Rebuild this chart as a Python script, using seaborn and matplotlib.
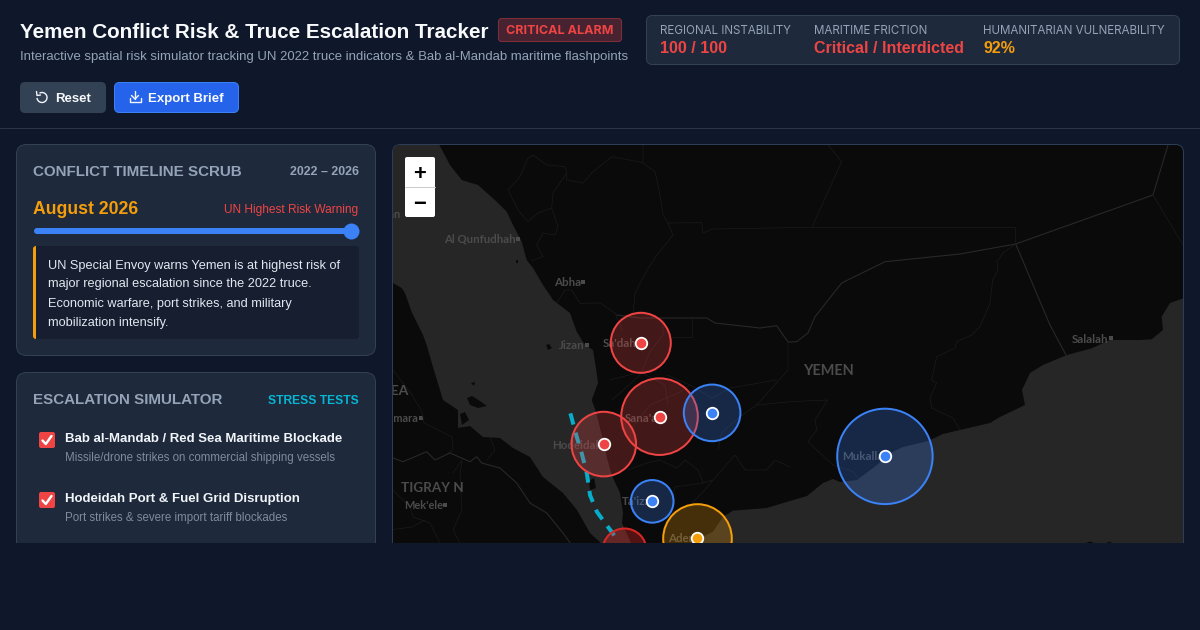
import numpy as np
import pandas as pd
import matplotlib
matplotlib.use("Agg")
import matplotlib.pyplot as plt
import seaborn as sns
from matplotlib.patches import FancyBboxPatch, Arc, Rectangle
from matplotlib.colors import to_rgba

# hotspot table (lon / lat, radius in screen px)
hot_names = ["Sa'dah", "Sana'a", "Marib", "Hodeidah", "Ta'izz", "Aden", "Bab al-Mandab", "Mukalla"]
hot_lon = [43.78, 44.19, 45.34, 42.97, 44.03, 45.02, 43.41, 49.12]
hot_lat = [16.92, 15.36, 15.44, 14.78, 13.57, 12.79, 12.54, 14.52]
hot_radius = [30, 38.3, 28.3, 32.3, 21.3, 34.3, 22, 47.7]
hot_level = ["high", "high", "watch", "high", "watch", "elevated", "severe", "watch"]

# shipping lane through the Red Sea
lane_lon = [42.24, 42.38, 42.49, 42.60, 42.67, 42.82, 43.03, 43.28]
lane_lat = [15.43, 14.93, 14.58, 14.16, 13.70, 13.35, 13.07, 12.75]

stat_labels = ["REGIONAL INSTABILITY", "MARITIME FRICTION", "HUMANITARIAN VULNERABILITY"]
stat_values = ["100 / 100", "Critical / Interdicted", "92%"]
note_lines = ["UN Special Envoy warns Yemen is at highest risk of",
              "major regional escalation since the 2022 truce.",
              "Economic warfare, port strikes, and military",
              "mobilization intensify."]
sim_titles = ["Bab al-Mandab / Red Sea Maritime Blockade", "Hodeidah Port & Fuel Grid Disruption"]
sim_subs = ["Missile/drone strikes on commercial shipping vessels", "Port strikes & severe import tariff blockades"]

# basemap traced in screen px
red_sea = [(393, 140), (436.7, 140), (450, 165), (461.7, 180), (478, 185), (496.7, 201.7), (506.7, 211.7), (513, 225),
           (521.7, 241.7), (526.7, 260), (533, 268), (543, 285), (553, 300), (570, 313), (576.7, 331.7), (585, 345),
           (593, 350), (596.7, 373), (598, 383), (591.7, 400), (596, 412), (603, 440), (607, 458), (611.7, 475),
           (620, 493), (623, 513), (622, 523), (632, 545), (603, 545), (590, 533), (577, 510), (563, 493), (543, 477),
           (530, 457), (513, 448), (500, 438), (483, 437), (470, 426), (458, 428), (458, 410), (443, 400), (433, 367),
           (426.7, 345), (423, 335), (411.7, 312), (405, 293), (401.7, 288), (393, 283)]
gulf = [(690, 545), (703, 536.7), (713, 531.7), (723, 516.7), (733, 510.7), (766.7, 508), (790, 501), (807, 496),
        (823, 483), (833, 479), (840, 482), (857, 480), (877, 465), (890, 453), (903, 447), (928, 441), (943, 434),
        (960, 430), (990, 423), (1000, 417), (1025, 405), (1022, 390), (1030, 373), (1043, 365), (1067, 355),
        (1091.7, 348.3), (1110, 340), (1140, 340), (1151.7, 339.3), (1163, 330), (1161.7, 316.7), (1170, 303),
        (1188, 296.7), (1188, 545)]
islands = [[(467, 398), (472, 396), (480, 401), (487, 406), (478, 408), (470, 405)],
           [(460, 414), (465, 412), (469, 420), (462, 425)],
           [(589, 481), (594, 478), (596, 488), (590, 490)],
           [(546, 345), (549, 344), (552, 348), (548, 350)],
           [(471, 383), (475, 382), (474, 386)],
           [(516, 260), (518, 260), (518, 263), (516, 263)],
           [(1083, 544), (1090, 541.5), (1097, 544)],
           [(1104, 544), (1110, 541.5), (1113, 544)]]

thick_borders = [
    [(616.7, 315), (640, 318), (663, 318), (706.7, 318), (715, 323), (760, 328), (776.7, 325.7), (788, 342), (796.7, 341.7),
     (808, 333), (815, 316.7), (841.7, 283), (885, 261.7), (960, 254), (1015.7, 244), (1153, 195), (1168, 145)],
    [(1015.7, 244), (1050, 325), (1066, 355)],
    [(393, 458), (403, 461.7), (426.7, 451.7), (435, 460), (450, 453), (470, 461.7), (476.7, 456.7), (481.7, 463),
     (500, 468), (516.7, 483), (530, 503), (546.7, 513), (563, 533), (571.7, 545)],
]
thin_borders = [
    [(668, 223), (701.7, 222.7), (703, 233), (713, 229), (790, 227.7), (1015.7, 227.7), (1015.7, 244)],
    [(828, 145), (841.7, 161.7), (811.7, 227.7)],
    [(1153, 195), (1183, 245)],
    [(643, 145), (643, 163), (655, 171.7), (660, 195), (663, 215), (668, 223), (673, 235), (657, 255), (647, 270), (635, 293), (633, 315)],
    [(566.7, 180), (583, 183), (591.7, 173), (611.7, 156.7), (638, 161.7), (643, 163)],
    [(566.7, 173), (553, 193), (551.7, 208), (558, 226.7), (555, 235), (543, 233), (536.7, 245), (543, 256.7), (531.7, 260.7)],
    [(533, 155), (546.7, 165), (565, 166.7), (566.7, 173), (566.7, 180)],
    [(551.7, 208), (538, 213), (528, 221.7), (518, 210), (508, 190), (520, 176.7), (528, 158), (533, 155)],
    [(556.7, 303), (565, 290), (571.7, 290), (580, 303.3), (600, 303), (615, 313), (622, 330)],
    [(776.7, 380), (730, 388), (712, 398), (690, 385), (667, 375)],
    [(788, 342), (788, 370), (756.7, 405), (740, 416.7), (722, 432), (718, 450)],
    [(756.7, 405), (790, 401.7), (827.7, 400), (815, 420), (816.7, 430), (808, 441.7), (820, 453), (833, 465), (853, 471.7), (858, 478)],
    [(960, 430), (953, 418), (931.7, 408), (930, 398), (936.7, 383), (931.7, 380), (936.7, 356.7), (955, 348), (956.7, 341.7),
     (971.7, 335), (980, 326.7), (990, 303), (992.7, 280), (998, 270), (997, 261.7), (1003, 253), (1015.7, 244)],
    [(628, 470), (646.7, 463), (660, 460), (676.7, 468), (685, 460), (698, 470), (703, 483), (675, 487), (672, 500)],
    [(703, 483), (713, 480), (735, 455), (745, 470), (766.7, 470), (775, 460), (790, 467)],
    [(690, 505), (705, 490), (713, 480)],
    [(663, 318), (663, 335), (650, 352), (640, 375), (612, 400)],
    [(692, 318), (692, 337), (671, 337)],
    [(630, 430), (650, 405), (680, 392), (690, 385)],
    [(610, 380), (640, 372), (665, 385), (668, 405)],
    [(393, 370), (412, 395), (422, 412), (424, 423), (452, 437), (453, 450), (443, 456)],
    [(453, 473), (462, 460), (460, 475), (462, 510), (453, 530), (460, 543)],
    [(393, 490), (410, 507), (413, 517), (430, 523), (440, 543)],
    [(390, 530), (412, 527), (425, 520)],
    [(490, 437), (495, 450), (487, 460)],
]

land_color = "#0a0a0a"
sea_color = "#262626"
map_text = "#4b4b4b"
bg = "#0f172a"
panel = "#1e293b"
edge = "#334155"
red = "#ef4444"
amber = "#f59e0b"
blue = "#3b82f6"
cyan = "#06b6d4"
muted = "#94a3b8"
level_colors = {"high": red, "watch": blue, "elevated": amber, "severe": "#dc2626"}
level_alpha = {"high": 0.25, "watch": 0.25, "elevated": 0.25, "severe": 0.35}

sns.set_theme(style="white")
plt.rcParams["font.family"] = ["Liberation Sans", "DejaVu Sans"]


def px(size):
    # css px -> matplotlib points at dpi 100
    return size * 0.72


def box(axis, x0, y0, x1, y1, r, face, line=None, lw=1.0, **kw):
    patch = FancyBboxPatch((x0, y0), x1 - x0, y1 - y0, boxstyle=f"round,pad=0,rounding_size={r}",
                           facecolor=face, edgecolor=line if line else "none", linewidth=px(lw), **kw)
    axis.add_patch(patch)
    return patch


fig = plt.figure(figsize=(12, 6.3), dpi=100, facecolor=bg)
ui = fig.add_axes([0, 0, 1, 1], zorder=1)
ui.set_xlim(0, 1200)
ui.set_ylim(630, 0)
ui.axis("off")


def label(x, y, s, size, color, weight="normal", ha="left", family=None):
    kw = {"family": family} if family else {}
    return ui.text(x, y, s, fontsize=px(size), color=color, fontweight=weight, ha=ha, va="baseline", **kw)


# header
label(20, 38, "Yemen Conflict Risk & Truce Escalation Tracker", 20.65, "#f8fafc", "bold")
label(20, 60, "Interactive spatial risk simulator tracking UN 2022 truce indicators & Bab al-Mandab maritime flashpoints", 13.15, muted)
box(ui, 498.5, 18.5, 621.5, 41.5, 3, to_rgba(red, 0.25), to_rgba(red, 0.45))
label(560, 34.2, "CRITICAL ALARM", 12.5, red, "bold", "center", "Inter")

box(ui, 646.5, 15.5, 1179.5, 64.5, 6, panel, edge)
for x, name, value, col in zip([660.5, 813.5, 983], stat_labels, stat_values, [red, red, amber]):
    label(x, 34, name, 11.6, muted, family="Inter")
    label(x, 53, value, 16, col, "bold")

box(ui, 20, 82, 106, 113, 5, edge)
label(55, 102, "Reset", 13.2, "#f8fafc", "bold")
ui.add_patch(Arc((42, 97.5), 10, 10, theta1=-120, theta2=175, color="#f1f5f9", lw=px(1.4)))
ui.plot([36.5, 37, 40.5], [91.5, 95.5, 95], color="#f1f5f9", lw=px(1.4))
box(ui, 114.5, 82.5, 238.5, 112.5, 5, "#2563eb", blue)
label(148, 102, "Export Brief", 13.2, "#f8fafc", "bold")
ui.plot([129.5, 129.5, 140.5, 140.5], [98, 102, 102, 98], color="#f1f5f9", lw=px(1.4))
ui.plot([135, 135], [91, 99], color="#f1f5f9", lw=px(1.4))
ui.plot([131.5, 135, 138.5], [95.5, 99, 95.5], color="#f1f5f9", lw=px(1.4))
ui.plot([0, 1200], [127.5, 127.5], color="#2a3548", lw=px(1))

# timeline panel
box(ui, 16.5, 144.5, 375.5, 355.5, 10, panel, edge)
label(33, 176, "CONFLICT TIMELINE SCRUB", 15.15, muted, "bold")
label(358.5, 175, "2022 – 2026", 12.4, muted, "bold", "right")
label(33, 213.5, "August 2026", 17.6, amber, "bold")
label(358.5, 213.5, "UN Highest Risk Warning", 11.9, red, ha="right")
box(ui, 34, 228, 351, 234, 3, blue)
ui.scatter([351], [231], s=px(16) ** 2, color=blue, linewidths=0, zorder=3)
box(ui, 33, 246, 359, 339, 4, "#161e30")
box(ui, 33, 246, 40, 339, 3, amber)
ui.add_patch(Rectangle((36, 246), 6, 93, facecolor="#161e30", edgecolor="none"))
for y, line in zip([268.5, 287.5, 307, 326], note_lines):
    label(48, y, line, 12.75, "#e2e8f0")

# simulator panel
box(ui, 16.5, 372.5, 375.5, 640, 10, panel, edge)
label(33, 404, "ESCALATION SIMULATOR", 15.15, muted, "bold")
label(358.5, 403.5, "STRESS TESTS", 12.1, cyan, "bold", "right")
for y, title, sub in zip([432, 492], sim_titles, sim_subs):
    box(ui, 39, y, 55, y + 16, 2, red)
    ui.plot([42.5, 45.8, 51.5], [y + 8.5, y + 12, y + 4], color="white", lw=px(2.4))
    label(65, y + 10, title, 13.25, "#f1f5f9", "bold")
    label(65, y + 29, sub, 11.55, "#7f8b9e")

# map frame
box(ui, 392.5, 144.5, 1183.5, 640, 8, land_color, "#2c3e5a")

# map axes in lon / lat; the traced basemap goes through the screen px transform
ax = fig.add_axes([393 / 1200, (630 - 543) / 630, 790 / 1200, 398 / 630], zorder=2)
ax.set_facecolor(land_color)
screen = ui.transData

sx, sy = zip(*red_sea)
ax.fill(sx, sy, color=sea_color, transform=screen, lw=0)
sx, sy = zip(*gulf)
ax.fill(sx, sy, color=sea_color, transform=screen, lw=0)
for isl in islands:
    sx, sy = zip(*isl)
    ax.fill(sx, sy, color=land_color, transform=screen, lw=0)
for seg in thick_borders:
    sx, sy = zip(*seg)
    ax.plot(sx, sy, color="#282828", lw=px(1.1), transform=screen)
for seg in thin_borders:
    sx, sy = zip(*seg)
    ax.plot(sx, sy, color="#1b1b1b", lw=px(0.7), transform=screen)

# city labels
city_labels = [("Sudan", 401, 218, "right", 11), ("Al Qunfudhah", 516, 243, "right", 11.4), ("Abha", 581, 286, "right", 11.5),
               ("Jizan", 585, 349, "right", 11.5), ("Sa'dah", 603, 347, "left", 11.5), ("Sana'a", 625, 422, "left", 11.5),
               ("Hodeidah", 552, 449, "left", 11.5), ("Ta'izz", 622, 505, "left", 11.5), ("Aden", 668, 542, "left", 11.5),
               ("Mukalla", 842, 460, "left", 11.5), ("Salalah", 1072, 343, "left", 11.5), ("Asmara", 418, 422, "right", 11),
               ("Mek'ele", 443, 509, "right", 11), ("YEMEN", 803, 375, "left", 14.5), ("ERITREA", 409, 395, "right", 14),
               ("TIGRAY N", 401, 492, "left", 13.5)]
for name, x, y, ha, size in city_labels:
    ax.text(x, y, name, transform=screen, color=map_text, fontsize=px(size), fontweight="bold",
            ha=ha, va="baseline", family="Lato", clip_on=True)
dot_x = [518, 583, 587, 421, 445, 1111]
dot_y = [239, 282, 345, 418, 505, 338]
ax.scatter(dot_x, dot_y, s=5, marker="s", color=map_text, linewidths=0, transform=screen)

# shipping lane
lane = pd.DataFrame({"lon": lane_lon, "lat": lane_lat})
sns.lineplot(data=lane, x="lon", y="lat", sort=False, estimator=None, color="#06aecb", linewidth=px(4), ax=ax)
ax.lines[-1].set_linestyle((0, (2.9, 2.1)))

# hotspot rings and centre dots
hot = pd.DataFrame({"name": hot_names, "lon": hot_lon, "lat": hot_lat, "radius": hot_radius, "level": hot_level})
for level, sub in hot.groupby("level", sort=False):
    areas = (2 * sub["radius"] * 0.72) ** 2
    sns.scatterplot(data=sub, x="lon", y="lat", s=areas.values, color=level_colors[level], linewidth=px(2),
                    edgecolor=level_colors[level], legend=False, zorder=4, ax=ax)
    ax.collections[-1].set_facecolor(to_rgba(level_colors[level], level_alpha[level]))
    sns.scatterplot(data=sub, x="lon", y="lat", s=px(11.5) ** 2, color=level_colors[level], linewidth=px(1.8),
                    edgecolor="white", legend=False, zorder=5, ax=ax)

ax.set_xlim(38.36, 55.64)
ax.set_ylim(12.69, 21.1)
ax.set_xticks([])
ax.set_yticks([])
ax.set_xlabel("")
ax.set_ylabel("")
for spine in ax.spines.values():
    spine.set_visible(False)

# zoom control
box(ax, 405, 157, 435, 217, 2, "white", transform=screen, zorder=8)
ax.plot([405, 435], [186.5, 186.5], color="#cccccc", lw=px(1), transform=screen, zorder=9)
ax.text(420, 175, "+", transform=screen, color="black", fontsize=px(22), fontweight="bold", ha="center", va="center", zorder=9)
ax.text(420, 205, "−", transform=screen, color="black", fontsize=px(22), fontweight="bold", ha="center", va="center", zorder=9)

# round the top corners of the map
frame = FancyBboxPatch((393, 145), 790, 500, boxstyle="round,pad=0,rounding_size=7", transform=screen)
for artist in ax.collections + ax.lines + ax.texts + ax.patches:
    artist.set_clip_path(frame)
ax.patch.set_visible(False)

# the page stops at y=543, everything below is plain background
cover = fig.add_axes([0, 0, 1, 1], zorder=3)
cover.set_xlim(0, 1200)
cover.set_ylim(630, 0)
cover.axis("off")
cover.add_patch(Rectangle((0, 543), 1200, 90, facecolor=bg, edgecolor="none"))

fig.savefig("out.png", dpi=100, facecolor=bg)
